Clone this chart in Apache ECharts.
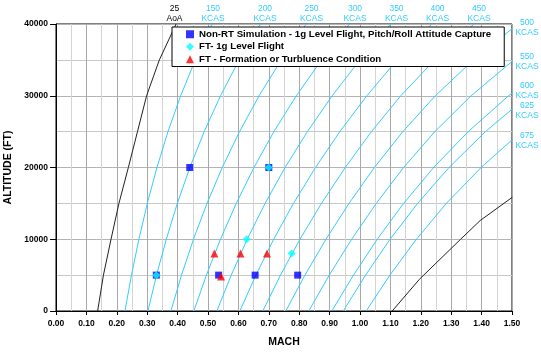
<!DOCTYPE html>
<html>
<head>
<meta charset="utf-8">
<script src="https://cdn.jsdelivr.net/npm/echarts@6/dist/echarts.min.js"></script>
<style>
  html, body { margin: 0; padding: 0; background: #fff; }
  #flight-envelope { width: 541px; height: 353px; }
</style>
</head>
<body>
<div id="flight-envelope"></div>
<script>
// altitude steps used by every curve (ft)
const altitudes = [0, 5000, 10000, 15000, 20000, 25000, 30000, 35000, 40000]

// mach, one value per altitude step
const kcas150 = [0.2268, 0.2483, 0.2727, 0.3004, 0.3320, 0.3683, 0.4101, 0.4584, 0.5134]
const kcas200 = [0.3024, 0.3307, 0.3628, 0.3991, 0.4404, 0.4874, 0.5412, 0.6027, 0.6722]
const kcas250 = [0.3779, 0.4129, 0.4523, 0.4967, 0.5469, 0.6037, 0.6681, 0.7412, 0.8229]
const kcas300 = [0.4535, 0.4948, 0.5411, 0.5930, 0.6513, 0.7167, 0.7907, 0.8736, 0.9653]
const kcas350 = [0.5291, 0.5764, 0.6290, 0.6879, 0.7535, 0.8269, 0.9087, 0.9997, 1.1005]
const kcas400 = [0.6047, 0.6576, 0.7160, 0.7813, 0.8536, 0.9337, 1.0225, 1.1222, 1.2357]
const kcas450 = [0.6803, 0.7384, 0.8025, 0.8733, 0.9515, 1.0376, 1.1342, 1.2457, 1.3747]
const kcas500 = [0.7559, 0.8188, 0.8880, 0.9639, 1.0473, 1.1407, 1.2479, 1.3730, 1.5193]
const kcas550 = [0.8315, 0.8989, 0.9726, 1.0535, 1.1433, 1.2462, 1.3656, 1.5062]
const kcas600 = [0.9071, 0.9786, 1.0566, 1.1434, 1.2421, 1.3559, 1.4888, 1.6457]
const kcas625 = [0.9449, 1.0183, 1.0989, 1.1895, 1.2928, 1.4126, 1.5528]
const kcas675 = [1.0204, 1.0983, 1.1854, 1.2841, 1.3983, 1.5304]
const kcasNames = ['150', '200', '250', '300', '350', '400', '450', '500', '550', '600', '625', '675']
const kcasLines = [kcas150, kcas200, kcas250, kcas300, kcas350, kcas400, kcas450, kcas500, kcas550, kcas600, kcas625, kcas675]

// 25 deg AoA line (left) and the high speed limit line (right)
const aoa25Mach = [0.137, 0.156, 0.181, 0.207, 0.238, 0.268, 0.298, 0.340, 0.395]
const limitMach = [1.106, 1.195, 1.331, 1.395, 1.501]
const limitAlt = [0, 4400, 10000, 12600, 15850]

// test points [mach, altitude]
const nonRtSim = [[0.33, 5000], [0.44, 20000], [0.535, 5000], [0.655, 5000], [0.70, 20000], [0.795, 5000]]
const ft1g = [[0.33, 5000], [0.70, 20000], [0.627, 10000], [0.775, 8000]]
const ftTurb = [[0.521, 8000], [0.543, 4800], [0.607, 8000], [0.694, 8000]]

// labels around the frame
const topLabels = ['25', '150', '200', '250', '300', '350', '400', '450']
const topUnits = ['AoA', 'KCAS', 'KCAS', 'KCAS', 'KCAS', 'KCAS', 'KCAS', 'KCAS']
const sideLabels = ['500', '550', '600', '625', '675']

const FONT = 'Liberation Sans, Arial, sans-serif'
const CYAN = '#33CCFF'

function pairs(xs, ys) {
  return xs.map((x, i) => [x, ys[i]])
}

const series = []
kcasLines.forEach((line, i) => {
  series.push({
    name: kcasNames[i] + ' KCAS',
    type: 'line',
    data: pairs(line, altitudes),
    showSymbol: false,
    silent: true,
    lineStyle: { color: CYAN, width: 1 },
    z: 2
  })
})
series.push({
  name: '25 AoA',
  type: 'line',
  data: pairs(aoa25Mach, altitudes),
  showSymbol: false,
  silent: true,
  lineStyle: { color: '#222', width: 1 },
  z: 2
})
series.push({
  name: 'limit',
  type: 'line',
  data: pairs(limitMach, limitAlt),
  showSymbol: false,
  silent: true,
  lineStyle: { color: '#222', width: 1 },
  z: 2
})
series.push({
  name: 'Non-RT Simulation - 1g Level Flight, Pitch/Roll Attitude Capture',
  type: 'scatter',
  symbol: 'rect',
  symbolSize: 7,
  itemStyle: { color: '#0000FF' },
  data: nonRtSim,
  z: 4
})
series.push({
  name: 'FT- 1g Level Flight',
  type: 'scatter',
  symbol: 'diamond',
  symbolSize: 8,
  itemStyle: { color: '#00FFFF' },
  data: ft1g,
  z: 5
})
series.push({
  name: 'FT - Formation or Turbluence Condition',
  type: 'scatter',
  symbol: 'triangle',
  symbolSize: 8,
  itemStyle: { color: '#FF0000' },
  data: ftTurb,
  z: 6
})

// text above and to the right of the plot
const topX = [174.5, 213, 265, 311.5, 355, 396.5, 437.5, 479]
const sideY = [22.5, 57, 86, 106, 136]
const graphics = []
topLabels.forEach((t, i) => {
  graphics.push({
    type: 'text',
    x: topX[i],
    y: 3,
    style: {
      text: t + '\n' + topUnits[i],
      fill: i === 0 ? '#000' : CYAN,
      font: '8.5px ' + FONT,
      textAlign: 'center',
      lineHeight: 10.5
    }
  })
})
sideLabels.forEach((t, i) => {
  graphics.push({
    type: 'text',
    x: 527,
    y: sideY[i] - 5,
    style: {
      text: t + '\nKCAS',
      fill: CYAN,
      font: '8.5px ' + FONT,
      textAlign: 'center',
      lineHeight: 9.8
    }
  })
})

const myChart = echarts.init(document.getElementById('flight-envelope'))
myChart.setOption({
  animation: false,
  backgroundColor: '#fff',
  grid: {
    left: 56,
    right: 29,
    top: 24,
    bottom: 42,
    containLabel: false,
    outerBoundsMode: 'none',
    show: true,
    borderColor: '#000',
    borderWidth: 1
  },
  legend: {
    data: [
      'Non-RT Simulation - 1g Level Flight, Pitch/Roll Attitude Capture',
      'FT- 1g Level Flight',
      'FT - Formation or Turbluence Condition'
    ],
    orient: 'vertical',
    left: 172,
    top: 27,
    backgroundColor: '#fff',
    borderColor: '#000',
    borderWidth: 1,
    borderRadius: 0,
    padding: [2, 13, 2, 14],
    itemGap: 2,
    itemWidth: 8,
    itemHeight: 8,
    textStyle: {
      fontFamily: FONT,
      fontWeight: 'bold',
      fontSize: 9.7,
      color: '#000',
      lineHeight: 10.5
    },
    z: 10
  },
  xAxis: {
    type: 'value',
    min: 0,
    max: 1.5,
    interval: 0.1,
    name: 'MACH',
    nameLocation: 'middle',
    nameGap: 26,
    nameTextStyle: { fontFamily: FONT, fontWeight: 'bold', fontSize: 10.5, color: '#000' },
    axisLine: { show: true, lineStyle: { color: '#000' } },
    axisTick: { show: true, length: 4, lineStyle: { color: '#000' } },
    axisLabel: {
      formatter: v => v.toFixed(2),
      fontFamily: FONT,
      fontWeight: 'bold',
      fontSize: 8.5,
      color: '#000',
      margin: 8
    },
    splitLine: { show: true, lineStyle: { color: '#a8a8a8' } },
    minorTick: { show: false, splitNumber: 2 },
    minorSplitLine: { show: true, lineStyle: { color: '#d4d4d4' } }
  },
  yAxis: {
    type: 'value',
    min: 0,
    max: 40000,
    interval: 10000,
    name: 'ALTITUDE (FT)',
    nameLocation: 'middle',
    nameGap: 38,
    nameTextStyle: { fontFamily: FONT, fontWeight: 'bold', fontSize: 10.5, color: '#000' },
    axisLine: { show: true, lineStyle: { color: '#000' } },
    axisTick: { show: true, length: 6, lineStyle: { color: '#000' } },
    axisLabel: {
      formatter: v => String(v),
      fontFamily: FONT,
      fontWeight: 'bold',
      fontSize: 8.5,
      color: '#000',
      margin: 8
    },
    splitLine: { show: true, lineStyle: { color: '#b4b4b4' } },
    minorTick: { show: false, splitNumber: 2 },
    minorSplitLine: { show: true, lineStyle: { color: '#c8c8c8' } }
  },
  graphic: graphics,
  series: series
})
</script>
</body>
</html>
